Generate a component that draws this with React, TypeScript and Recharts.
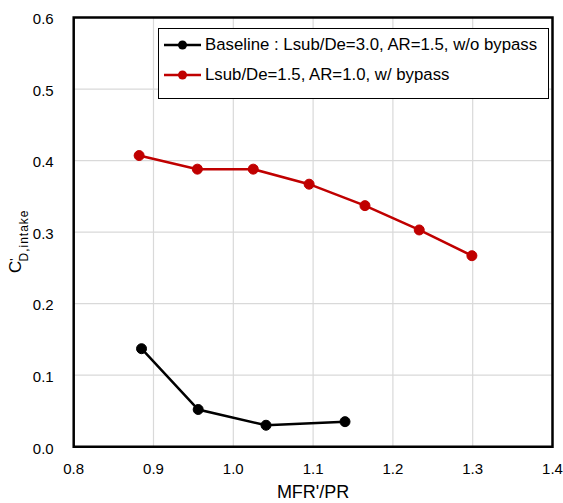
import React from 'react';
import { LineChart, Line, XAxis, YAxis, CartesianGrid, ReferenceArea, Legend } from 'recharts';

const baselineX = [0.885, 0.956, 1.041, 1.140];
const baselineY = [0.137, 0.052, 0.030, 0.035];
const bypassX = [0.882, 0.955, 1.025, 1.095, 1.165, 1.233, 1.299];
const bypassY = [0.407, 0.388, 0.388, 0.367, 0.337, 0.303, 0.267];
const xTicks = [0.8, 0.9, 1.0, 1.1, 1.2, 1.3, 1.4];
const yTicks = [0, 0.1, 0.2, 0.3, 0.4, 0.5, 0.6];
const seriesNames = ['Baseline : Lsub/De=3.0, AR=1.5, w/o bypass', 'Lsub/De=1.5, AR=1.0, w/ bypass'];
const seriesColors = ['#000000', '#c00000'];

const baselineData = baselineX.map((x, i) => ({ x, y: baselineY[i] }));
const bypassData = bypassX.map((x, i) => ({ x, y: bypassY[i] }));

const FONT = '"Liberation Sans", Arial, sans-serif';

const LegendBox = () => (
  <div style={{ width: 391, height: 71, border: '1.5px solid #000', background: '#fff', boxSizing: 'border-box', position: 'relative', fontFamily: FONT }}>
    {seriesNames.map((name, i) => (
      <div key={name} style={{ position: 'absolute', left: 0, top: i === 0 ? 4 : 34, height: 24, display: 'flex', alignItems: 'center' }}>
        <svg width={46} height={24} style={{ display: 'block' }}>
          <line x1={5} y1={12} x2={42} y2={12} stroke={seriesColors[i]} strokeWidth={2.5} />
          <circle cx={23.5} cy={12} r={4.5} fill={seriesColors[i]} />
        </svg>
        <span style={{ fontSize: 16.8, color: '#000', whiteSpace: 'nowrap' }}>{name}</span>
      </div>
    ))}
  </div>
);

const YLabel = (props: any) => {
  const vb = props.viewBox;
  const cy = vb.y + vb.height / 2;
  return (
    <text transform="rotate(-90)" x={-(cy + 41)} y={20.5} fontFamily={FONT} fill="#000" textAnchor="start">
      <tspan fontSize={17}>C</tspan>
      <tspan fontSize={12} dy={-2}>'</tspan>
      <tspan fontSize={12} dx={-3} dy={9.5} letterSpacing={1}>D,intake</tspan>
    </text>
  );
};

const XLabel = (props: any) => {
  const vb = props.viewBox;
  return (
    <text x={vb.x + vb.width / 2} y={vb.y + 51} fontFamily={FONT} fontSize={18} fill="#000" textAnchor="middle">
      MFR'/PR
    </text>
  );
};

export default function App() {
  return (
    <div style={{ position: 'absolute', left: 0, top: 0, width: 563, height: 503, background: '#fff' }}>
      <LineChart width={563} height={503} margin={{ top: 17.5, right: 10.5, left: 0, bottom: 0 }} style={{ fontFamily: FONT }}>
        <CartesianGrid stroke="#d9d9d9" strokeWidth={1.2} />
        <XAxis
          type="number"
          dataKey="x"
          domain={[0.8, 1.4]}
          ticks={xTicks}
          interval={0}
          allowDataOverflow
          height={56.3}
          axisLine={false}
          tickLine={false}
          tickSize={0}
          tickMargin={17}
          tick={{ fill: '#000', fontSize: 15 }}
          tickFormatter={(v: number) => v.toFixed(1)}
          label={<XLabel />}
        />
        <YAxis
          type="number"
          dataKey="y"
          domain={[0, 0.6]}
          ticks={yTicks}
          interval={0}
          allowDataOverflow
          width={73.7}
          axisLine={false}
          tickLine={false}
          tickSize={0}
          tickMargin={20}
          tick={{ fill: '#000', fontSize: 15, dy: 1.5 }}
          tickFormatter={(v: number) => v.toFixed(1)}
          label={<YLabel />}
        />
        <Line
          data={baselineData}
          dataKey="y"
          name={seriesNames[0]}
          stroke={seriesColors[0]}
          strokeWidth={2.5}
          dot={{ r: 5, fill: seriesColors[0], stroke: seriesColors[0], strokeWidth: 1 }}
          isAnimationActive={false}
        />
        <Line
          data={bypassData}
          dataKey="y"
          name={seriesNames[1]}
          stroke={seriesColors[1]}
          strokeWidth={2.5}
          dot={{ r: 5, fill: seriesColors[1], stroke: seriesColors[1], strokeWidth: 1 }}
          isAnimationActive={false}
        />
        <ReferenceArea x1={0.8} x2={1.4} y1={0} y2={0.6} fill="none" fillOpacity={0} stroke="#000" strokeWidth={2.5} />
        <Legend
          layout="horizontal"
          verticalAlign="middle"
          align="center"
          content={() => <LegendBox />}
          wrapperStyle={{ position: 'absolute', left: 158, top: 28, width: 391, height: 71 }}
        />
      </LineChart>
    </div>
  );
}
